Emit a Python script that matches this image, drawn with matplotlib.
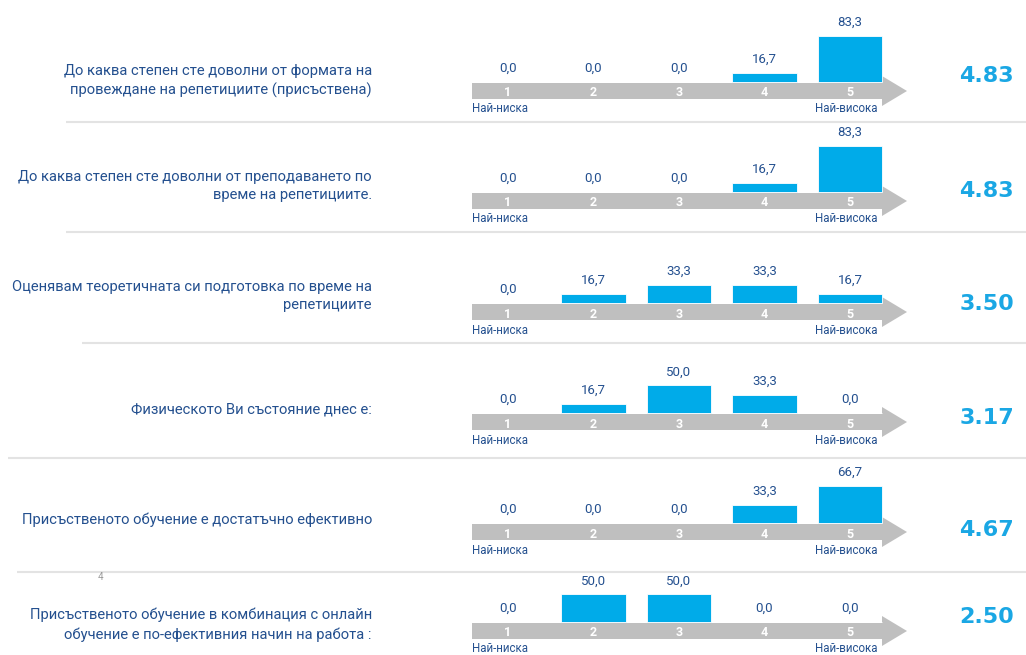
import matplotlib.pyplot as plt
from matplotlib import font_manager
from matplotlib.patches import Polygon

questions = [
    "До каква степен сте доволни от формата на\nпровеждане на репетициите (присъствена)",
    "До каква степен сте доволни от преподаването по\nвреме на репетициите.",
    "Оценявам теоретичната си подготовка по време на\nрепетициите",
    "Физическото Ви състояние днес е:",
    "Присъственото обучение е достатъчно ефективно",
    "Присъственото обучение в комбинация с онлайн\nобучение е по-ефективния начин на работа :",
]
categories = [1, 2, 3, 4, 5]
shares = [
    [0.0, 0.0, 0.0, 16.7, 83.3],
    [0.0, 0.0, 0.0, 16.7, 83.3],
    [0.0, 16.7, 33.3, 33.3, 16.7],
    [0.0, 16.7, 50.0, 33.3, 0.0],
    [0.0, 0.0, 0.0, 33.3, 66.7],
    [0.0, 50.0, 50.0, 0.0, 0.0],
]
scores = [4.83, 4.83, 3.50, 3.17, 4.67, 2.50]
low_label = "Най-ниска"
high_label = "Най-висока"
page_number = "4"

# layout (pixels)
W, H = 1026, 655
arrow_y = [91, 201, 312, 422, 532, 631]
text_dy = [-10, -15, -16, -12, -12, -6]
score_dy = [-15, -10, -8, -4, -2, -14]
sep_y = [122, 232, 343, 458, 572]
sep_x0 = [66, 66, 82, 8, 17]

names = {f.name for f in font_manager.fontManager.ttflist}
cond = "Liberation Sans Narrow" if "Liberation Sans Narrow" in names else "Roboto"

dark_blue = "#24508f"
bar_blue = "#00abe9"
score_blue = "#1aa7e4"
arrow_grey = "#bfbfbf"

fig = plt.figure(figsize=(W / 100, H / 100), dpi=100)
bg = fig.add_axes([0, 0, 1, 1])
bg.set_xlim(0, W)
bg.set_ylim(H, 0)
bg.axis("off")

for y, x0 in zip(sep_y, sep_x0):
    bg.plot([x0, W], [y, y], color="#e3e3e3", lw=1.5, solid_capstyle="butt")
bg.text(101, 577, page_number, color="#9a9a9a", fontsize=7, ha="center", va="center",
        family=cond)

px_x = 85.5          # pixels per category step
px_y = 0.555         # pixels per percent
left_px, right_px = 36, 58
top_px, bot_px = 56, 25
x0 = 1 - left_px / px_x
x1 = 5 + right_px / px_x

for i, (q, vals, sc) in enumerate(zip(questions, shares, scores)):
    c = arrow_y[i]
    ax = fig.add_axes([472 / W, 1 - (c + 16) / H, 436 / W, 81 / H])
    ax.set_xlim(x0, x1)
    ax.set_ylim(-bot_px / px_y, top_px / px_y)
    ax.axis("off")

    # arrow
    yc = -9 / px_y
    hb = 8 / px_y
    hh = 15 / px_y
    xh = 1 + (882 - 508) / px_x
    xt = 1 + (907 - 508) / px_x
    pts = [(x0, yc - hb), (xh, yc - hb), (xh, yc - hh), (xt, yc),
           (xh, yc + hh), (xh, yc + hb), (x0, yc + hb)]
    ax.add_patch(Polygon(pts, closed=True, color=arrow_grey, lw=0, clip_on=False))

    bars = ax.bar(categories, vals, width=0.76, color=bar_blue, edgecolor="white",
                  linewidth=0.6, clip_on=False)
    for b, v in zip(bars, vals):
        ax.annotate(f"{v:.1f}".replace(".", ","), (b.get_x() + b.get_width() / 2, v),
                    xytext=(0, 5), textcoords="offset points", ha="center", va="bottom",
                    fontsize=9.5, color=dark_blue, family=cond, annotation_clip=False)
    for k in categories:
        ax.text(k, yc - 2 / px_y, str(k), ha="center", va="center", fontsize=9,
                fontweight="bold", color="white", family=cond)
    ax.text(x0, yc - 18 / px_y, low_label, ha="left", va="center", fontsize=8.3,
            color=dark_blue, family=cond, clip_on=False)
    ax.text(1 + (877 - 508) / px_x, yc - 18 / px_y, high_label, ha="right", va="center",
            fontsize=8.3, color=dark_blue, family=cond, clip_on=False)

    bg.text(372, c + text_dy[i], q, ha="right", va="center", fontsize=10.6,
            color=dark_blue, family=cond, linespacing=1.45)
    bg.text(1014, c + score_dy[i], f"{sc:.2f}", ha="right", va="center", fontsize=16,
            fontweight="bold", color=score_blue, family="DejaVu Sans")

fig.savefig("out.png", dpi=100)
